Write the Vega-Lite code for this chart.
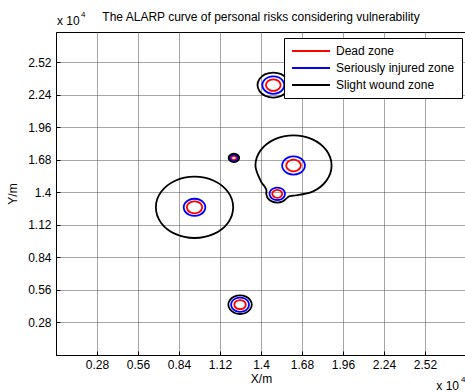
{
"$schema": "https://vega.github.io/schema/vega-lite/v6.json",
"width": 410, "height": 323,
"autosize": {"type": "none"},
"padding": {"left": 56, "top": 32, "right": 0, "bottom": 37},
"background": "white",
"title": {"text": "The ALARP curve of personal risks considering vulnerability", "font": "Liberation Sans", "fontSize": 12, "fontWeight": "normal", "color": "black", "offset": 7, "dy": 20},
"config": {
  "view": {"stroke": "black", "strokeWidth": 1},
  "axis": {"labelFont": "Liberation Sans", "labelFontSize": 12, "labelColor": "black", "titleFont": "Liberation Sans", "titleFontSize": 12, "titleFontWeight": "normal", "titleColor": "black", "grid": true, "gridColor": "#4d4d4d", "gridDash": [1, 1], "gridWidth": 1, "domainColor": "black", "domainWidth": 1, "ticks": true, "tickSize": -4, "tickColor": "black", "tickWidth": 1}
},
"datasets": {
"contours": [
{"zone":"Dead zone","id":"r1","i":0,"x":1.534,"y":2.323},{"zone":"Dead zone","id":"r1","i":1,"x":1.527,"y":2.348},{"zone":"Dead zone","id":"r1","i":2,"x":1.509,"y":2.366},{"zone":"Dead zone","id":"r1","i":3,"x":1.484,"y":2.373},{"zone":"Dead zone","id":"r1","i":4,"x":1.459,"y":2.366},{"zone":"Dead zone","id":"r1","i":5,"x":1.441,"y":2.348},{"zone":"Dead zone","id":"r1","i":6,"x":1.434,"y":2.323},{"zone":"Dead zone","id":"r1","i":7,"x":1.441,"y":2.298},{"zone":"Dead zone","id":"r1","i":8,"x":1.459,"y":2.280},{"zone":"Dead zone","id":"r1","i":9,"x":1.484,"y":2.273},{"zone":"Dead zone","id":"r1","i":10,"x":1.509,"y":2.280},{"zone":"Dead zone","id":"r1","i":11,"x":1.527,"y":2.298},
{"zone":"Seriously injured zone","id":"b1","i":0,"x":1.559,"y":2.323},{"zone":"Seriously injured zone","id":"b1","i":1,"x":1.549,"y":2.361},{"zone":"Seriously injured zone","id":"b1","i":2,"x":1.522,"y":2.388},{"zone":"Seriously injured zone","id":"b1","i":3,"x":1.484,"y":2.398},{"zone":"Seriously injured zone","id":"b1","i":4,"x":1.447,"y":2.388},{"zone":"Seriously injured zone","id":"b1","i":5,"x":1.419,"y":2.361},{"zone":"Seriously injured zone","id":"b1","i":6,"x":1.409,"y":2.323},{"zone":"Seriously injured zone","id":"b1","i":7,"x":1.419,"y":2.286},{"zone":"Seriously injured zone","id":"b1","i":8,"x":1.447,"y":2.258},{"zone":"Seriously injured zone","id":"b1","i":9,"x":1.484,"y":2.248},{"zone":"Seriously injured zone","id":"b1","i":10,"x":1.522,"y":2.258},{"zone":"Seriously injured zone","id":"b1","i":11,"x":1.549,"y":2.286},
{"zone":"Slight wound zone","id":"k1","i":0,"x":1.592,"y":2.323},{"zone":"Slight wound zone","id":"k1","i":1,"x":1.578,"y":2.377},{"zone":"Slight wound zone","id":"k1","i":2,"x":1.538,"y":2.417},{"zone":"Slight wound zone","id":"k1","i":3,"x":1.484,"y":2.431},{"zone":"Slight wound zone","id":"k1","i":4,"x":1.430,"y":2.417},{"zone":"Slight wound zone","id":"k1","i":5,"x":1.391,"y":2.377},{"zone":"Slight wound zone","id":"k1","i":6,"x":1.376,"y":2.323},{"zone":"Slight wound zone","id":"k1","i":7,"x":1.391,"y":2.269},{"zone":"Slight wound zone","id":"k1","i":8,"x":1.430,"y":2.230},{"zone":"Slight wound zone","id":"k1","i":9,"x":1.484,"y":2.215},{"zone":"Slight wound zone","id":"k1","i":10,"x":1.538,"y":2.230},{"zone":"Slight wound zone","id":"k1","i":11,"x":1.578,"y":2.269},
{"zone":"Dead zone","id":"r2","i":0,"x":1.233,"y":1.696},{"zone":"Dead zone","id":"r2","i":1,"x":1.231,"y":1.705},{"zone":"Dead zone","id":"r2","i":2,"x":1.224,"y":1.712},{"zone":"Dead zone","id":"r2","i":3,"x":1.215,"y":1.714},{"zone":"Dead zone","id":"r2","i":4,"x":1.206,"y":1.712},{"zone":"Dead zone","id":"r2","i":5,"x":1.199,"y":1.705},{"zone":"Dead zone","id":"r2","i":6,"x":1.197,"y":1.696},{"zone":"Dead zone","id":"r2","i":7,"x":1.199,"y":1.687},{"zone":"Dead zone","id":"r2","i":8,"x":1.206,"y":1.680},{"zone":"Dead zone","id":"r2","i":9,"x":1.215,"y":1.678},{"zone":"Dead zone","id":"r2","i":10,"x":1.224,"y":1.680},{"zone":"Dead zone","id":"r2","i":11,"x":1.231,"y":1.687},
{"zone":"Seriously injured zone","id":"b2","i":0,"x":1.243,"y":1.696},{"zone":"Seriously injured zone","id":"b2","i":1,"x":1.239,"y":1.710},{"zone":"Seriously injured zone","id":"b2","i":2,"x":1.229,"y":1.720},{"zone":"Seriously injured zone","id":"b2","i":3,"x":1.215,"y":1.724},{"zone":"Seriously injured zone","id":"b2","i":4,"x":1.201,"y":1.720},{"zone":"Seriously injured zone","id":"b2","i":5,"x":1.191,"y":1.710},{"zone":"Seriously injured zone","id":"b2","i":6,"x":1.187,"y":1.696},{"zone":"Seriously injured zone","id":"b2","i":7,"x":1.191,"y":1.682},{"zone":"Seriously injured zone","id":"b2","i":8,"x":1.201,"y":1.672},{"zone":"Seriously injured zone","id":"b2","i":9,"x":1.215,"y":1.668},{"zone":"Seriously injured zone","id":"b2","i":10,"x":1.229,"y":1.672},{"zone":"Seriously injured zone","id":"b2","i":11,"x":1.239,"y":1.682},
{"zone":"Slight wound zone","id":"k2","i":0,"x":1.251,"y":1.696},{"zone":"Slight wound zone","id":"k2","i":1,"x":1.246,"y":1.714},{"zone":"Slight wound zone","id":"k2","i":2,"x":1.233,"y":1.727},{"zone":"Slight wound zone","id":"k2","i":3,"x":1.215,"y":1.732},{"zone":"Slight wound zone","id":"k2","i":4,"x":1.197,"y":1.727},{"zone":"Slight wound zone","id":"k2","i":5,"x":1.184,"y":1.714},{"zone":"Slight wound zone","id":"k2","i":6,"x":1.179,"y":1.696},{"zone":"Slight wound zone","id":"k2","i":7,"x":1.184,"y":1.678},{"zone":"Slight wound zone","id":"k2","i":8,"x":1.197,"y":1.665},{"zone":"Slight wound zone","id":"k2","i":9,"x":1.215,"y":1.660},{"zone":"Slight wound zone","id":"k2","i":10,"x":1.233,"y":1.665},{"zone":"Slight wound zone","id":"k2","i":11,"x":1.246,"y":1.678},
{"zone":"Dead zone","id":"r3","i":0,"x":1.672,"y":1.631},{"zone":"Dead zone","id":"r3","i":1,"x":1.665,"y":1.656},{"zone":"Dead zone","id":"r3","i":2,"x":1.647,"y":1.674},{"zone":"Dead zone","id":"r3","i":3,"x":1.622,"y":1.681},{"zone":"Dead zone","id":"r3","i":4,"x":1.597,"y":1.674},{"zone":"Dead zone","id":"r3","i":5,"x":1.579,"y":1.656},{"zone":"Dead zone","id":"r3","i":6,"x":1.572,"y":1.631},{"zone":"Dead zone","id":"r3","i":7,"x":1.579,"y":1.606},{"zone":"Dead zone","id":"r3","i":8,"x":1.597,"y":1.588},{"zone":"Dead zone","id":"r3","i":9,"x":1.622,"y":1.581},{"zone":"Dead zone","id":"r3","i":10,"x":1.647,"y":1.588},{"zone":"Dead zone","id":"r3","i":11,"x":1.665,"y":1.606},
{"zone":"Seriously injured zone","id":"b3","i":0,"x":1.700,"y":1.631},{"zone":"Seriously injured zone","id":"b3","i":1,"x":1.690,"y":1.670},{"zone":"Seriously injured zone","id":"b3","i":2,"x":1.661,"y":1.699},{"zone":"Seriously injured zone","id":"b3","i":3,"x":1.622,"y":1.709},{"zone":"Seriously injured zone","id":"b3","i":4,"x":1.583,"y":1.699},{"zone":"Seriously injured zone","id":"b3","i":5,"x":1.555,"y":1.670},{"zone":"Seriously injured zone","id":"b3","i":6,"x":1.544,"y":1.631},{"zone":"Seriously injured zone","id":"b3","i":7,"x":1.555,"y":1.592},{"zone":"Seriously injured zone","id":"b3","i":8,"x":1.583,"y":1.563},{"zone":"Seriously injured zone","id":"b3","i":9,"x":1.622,"y":1.553},{"zone":"Seriously injured zone","id":"b3","i":10,"x":1.661,"y":1.563},{"zone":"Seriously injured zone","id":"b3","i":11,"x":1.690,"y":1.592},
{"zone":"Dead zone","id":"r4","i":0,"x":1.545,"y":1.387},{"zone":"Dead zone","id":"r4","i":1,"x":1.540,"y":1.404},{"zone":"Dead zone","id":"r4","i":2,"x":1.528,"y":1.416},{"zone":"Dead zone","id":"r4","i":3,"x":1.511,"y":1.421},{"zone":"Dead zone","id":"r4","i":4,"x":1.494,"y":1.416},{"zone":"Dead zone","id":"r4","i":5,"x":1.482,"y":1.404},{"zone":"Dead zone","id":"r4","i":6,"x":1.477,"y":1.387},{"zone":"Dead zone","id":"r4","i":7,"x":1.482,"y":1.370},{"zone":"Dead zone","id":"r4","i":8,"x":1.494,"y":1.358},{"zone":"Dead zone","id":"r4","i":9,"x":1.511,"y":1.353},{"zone":"Dead zone","id":"r4","i":10,"x":1.528,"y":1.358},{"zone":"Dead zone","id":"r4","i":11,"x":1.540,"y":1.370},
{"zone":"Seriously injured zone","id":"b4","i":0,"x":1.564,"y":1.387},{"zone":"Seriously injured zone","id":"b4","i":1,"x":1.557,"y":1.414},{"zone":"Seriously injured zone","id":"b4","i":2,"x":1.538,"y":1.433},{"zone":"Seriously injured zone","id":"b4","i":3,"x":1.511,"y":1.440},{"zone":"Seriously injured zone","id":"b4","i":4,"x":1.485,"y":1.433},{"zone":"Seriously injured zone","id":"b4","i":5,"x":1.465,"y":1.414},{"zone":"Seriously injured zone","id":"b4","i":6,"x":1.458,"y":1.387},{"zone":"Seriously injured zone","id":"b4","i":7,"x":1.465,"y":1.361},{"zone":"Seriously injured zone","id":"b4","i":8,"x":1.485,"y":1.341},{"zone":"Seriously injured zone","id":"b4","i":9,"x":1.511,"y":1.334},{"zone":"Seriously injured zone","id":"b4","i":10,"x":1.538,"y":1.341},{"zone":"Seriously injured zone","id":"b4","i":11,"x":1.557,"y":1.361},
{"zone":"Slight wound zone","id":"k3","i":0,"x":1.622,"y":1.371},{"zone":"Slight wound zone","id":"k3","i":1,"x":1.752,"y":1.406},{"zone":"Slight wound zone","id":"k3","i":2,"x":1.847,"y":1.501},{"zone":"Slight wound zone","id":"k3","i":3,"x":1.882,"y":1.631},{"zone":"Slight wound zone","id":"k3","i":4,"x":1.847,"y":1.761},{"zone":"Slight wound zone","id":"k3","i":5,"x":1.752,"y":1.856},{"zone":"Slight wound zone","id":"k3","i":6,"x":1.622,"y":1.891},{"zone":"Slight wound zone","id":"k3","i":7,"x":1.492,"y":1.856},{"zone":"Slight wound zone","id":"k3","i":8,"x":1.397,"y":1.761},{"zone":"Slight wound zone","id":"k3","i":9,"x":1.362,"y":1.631},{"zone":"Slight wound zone","id":"k3","i":10,"x":1.397,"y":1.501},{"zone":"Slight wound zone","id":"k3","i":11,"x":1.422,"y":1.455},{"zone":"Slight wound zone","id":"k3","i":12,"x":1.437,"y":1.420},{"zone":"Slight wound zone","id":"k3","i":13,"x":1.436,"y":1.387},{"zone":"Slight wound zone","id":"k3","i":14,"x":1.446,"y":1.350},{"zone":"Slight wound zone","id":"k3","i":15,"x":1.474,"y":1.322},{"zone":"Slight wound zone","id":"k3","i":16,"x":1.511,"y":1.312},{"zone":"Slight wound zone","id":"k3","i":17,"x":1.549,"y":1.322},{"zone":"Slight wound zone","id":"k3","i":18,"x":1.576,"y":1.350},{"zone":"Slight wound zone","id":"k3","i":19,"x":1.592,"y":1.366},
{"zone":"Dead zone","id":"r5","i":0,"x":0.998,"y":1.271},{"zone":"Dead zone","id":"r5","i":1,"x":0.991,"y":1.297},{"zone":"Dead zone","id":"r5","i":2,"x":0.972,"y":1.316},{"zone":"Dead zone","id":"r5","i":3,"x":0.946,"y":1.323},{"zone":"Dead zone","id":"r5","i":4,"x":0.920,"y":1.316},{"zone":"Dead zone","id":"r5","i":5,"x":0.901,"y":1.297},{"zone":"Dead zone","id":"r5","i":6,"x":0.894,"y":1.271},{"zone":"Dead zone","id":"r5","i":7,"x":0.901,"y":1.245},{"zone":"Dead zone","id":"r5","i":8,"x":0.920,"y":1.226},{"zone":"Dead zone","id":"r5","i":9,"x":0.946,"y":1.219},{"zone":"Dead zone","id":"r5","i":10,"x":0.972,"y":1.226},{"zone":"Dead zone","id":"r5","i":11,"x":0.991,"y":1.245},
{"zone":"Seriously injured zone","id":"b5","i":0,"x":1.020,"y":1.271},{"zone":"Seriously injured zone","id":"b5","i":1,"x":1.010,"y":1.308},{"zone":"Seriously injured zone","id":"b5","i":2,"x":0.983,"y":1.335},{"zone":"Seriously injured zone","id":"b5","i":3,"x":0.946,"y":1.345},{"zone":"Seriously injured zone","id":"b5","i":4,"x":0.909,"y":1.335},{"zone":"Seriously injured zone","id":"b5","i":5,"x":0.882,"y":1.308},{"zone":"Seriously injured zone","id":"b5","i":6,"x":0.872,"y":1.271},{"zone":"Seriously injured zone","id":"b5","i":7,"x":0.882,"y":1.234},{"zone":"Seriously injured zone","id":"b5","i":8,"x":0.909,"y":1.207},{"zone":"Seriously injured zone","id":"b5","i":9,"x":0.946,"y":1.197},{"zone":"Seriously injured zone","id":"b5","i":10,"x":0.983,"y":1.207},{"zone":"Seriously injured zone","id":"b5","i":11,"x":1.010,"y":1.234},
{"zone":"Slight wound zone","id":"k5","i":0,"x":1.210,"y":1.271},{"zone":"Slight wound zone","id":"k5","i":1,"x":1.175,"y":1.403},{"zone":"Slight wound zone","id":"k5","i":2,"x":1.078,"y":1.500},{"zone":"Slight wound zone","id":"k5","i":3,"x":0.946,"y":1.535},{"zone":"Slight wound zone","id":"k5","i":4,"x":0.814,"y":1.500},{"zone":"Slight wound zone","id":"k5","i":5,"x":0.717,"y":1.403},{"zone":"Slight wound zone","id":"k5","i":6,"x":0.682,"y":1.271},{"zone":"Slight wound zone","id":"k5","i":7,"x":0.717,"y":1.139},{"zone":"Slight wound zone","id":"k5","i":8,"x":0.814,"y":1.042},{"zone":"Slight wound zone","id":"k5","i":9,"x":0.946,"y":1.007},{"zone":"Slight wound zone","id":"k5","i":10,"x":1.078,"y":1.042},{"zone":"Slight wound zone","id":"k5","i":11,"x":1.175,"y":1.139},
{"zone":"Dead zone","id":"r6","i":0,"x":1.296,"y":0.433},{"zone":"Dead zone","id":"r6","i":1,"x":1.291,"y":0.453},{"zone":"Dead zone","id":"r6","i":2,"x":1.277,"y":0.467},{"zone":"Dead zone","id":"r6","i":3,"x":1.257,"y":0.472},{"zone":"Dead zone","id":"r6","i":4,"x":1.238,"y":0.467},{"zone":"Dead zone","id":"r6","i":5,"x":1.223,"y":0.453},{"zone":"Dead zone","id":"r6","i":6,"x":1.218,"y":0.433},{"zone":"Dead zone","id":"r6","i":7,"x":1.223,"y":0.414},{"zone":"Dead zone","id":"r6","i":8,"x":1.238,"y":0.399},{"zone":"Dead zone","id":"r6","i":9,"x":1.257,"y":0.394},{"zone":"Dead zone","id":"r6","i":10,"x":1.277,"y":0.399},{"zone":"Dead zone","id":"r6","i":11,"x":1.291,"y":0.414},
{"zone":"Seriously injured zone","id":"b6","i":0,"x":1.318,"y":0.433},{"zone":"Seriously injured zone","id":"b6","i":1,"x":1.310,"y":0.464},{"zone":"Seriously injured zone","id":"b6","i":2,"x":1.288,"y":0.486},{"zone":"Seriously injured zone","id":"b6","i":3,"x":1.257,"y":0.494},{"zone":"Seriously injured zone","id":"b6","i":4,"x":1.227,"y":0.486},{"zone":"Seriously injured zone","id":"b6","i":5,"x":1.204,"y":0.464},{"zone":"Seriously injured zone","id":"b6","i":6,"x":1.196,"y":0.433},{"zone":"Seriously injured zone","id":"b6","i":7,"x":1.204,"y":0.403},{"zone":"Seriously injured zone","id":"b6","i":8,"x":1.227,"y":0.380},{"zone":"Seriously injured zone","id":"b6","i":9,"x":1.257,"y":0.372},{"zone":"Seriously injured zone","id":"b6","i":10,"x":1.288,"y":0.380},{"zone":"Seriously injured zone","id":"b6","i":11,"x":1.310,"y":0.403},
{"zone":"Slight wound zone","id":"k6","i":0,"x":1.337,"y":0.433},{"zone":"Slight wound zone","id":"k6","i":1,"x":1.326,"y":0.473},{"zone":"Slight wound zone","id":"k6","i":2,"x":1.297,"y":0.502},{"zone":"Slight wound zone","id":"k6","i":3,"x":1.257,"y":0.513},{"zone":"Slight wound zone","id":"k6","i":4,"x":1.217,"y":0.502},{"zone":"Slight wound zone","id":"k6","i":5,"x":1.188,"y":0.473},{"zone":"Slight wound zone","id":"k6","i":6,"x":1.177,"y":0.433},{"zone":"Slight wound zone","id":"k6","i":7,"x":1.188,"y":0.393},{"zone":"Slight wound zone","id":"k6","i":8,"x":1.217,"y":0.364},{"zone":"Slight wound zone","id":"k6","i":9,"x":1.257,"y":0.353},{"zone":"Slight wound zone","id":"k6","i":10,"x":1.297,"y":0.364},{"zone":"Slight wound zone","id":"k6","i":11,"x":1.326,"y":0.393}
],
"notes": [
{"x": 0, "y": 2.78, "base": "x 10", "sup": "4", "pos": "top"},
{"x": 2.8, "y": 0, "base": "x 10", "sup": "4", "pos": "bottom"}
]
},
"layer": [
{
  "data": {"name": "contours"},
  "mark": {"type": "line", "interpolate": "cardinal-closed", "strokeWidth": 1.8},
  "encoding": {
    "x": {"field": "x", "type": "quantitative", "scale": {"domain": [0, 2.8], "nice": false, "zero": false}, "axis": {"title": "X/m", "values": [0.28, 0.56, 0.84, 1.12, 1.4, 1.68, 1.96, 2.24, 2.52], "format": ".3~g", "labelPadding": 8, "titlePadding": 3}},
    "y": {"field": "y", "type": "quantitative", "scale": {"domain": [0, 2.78], "nice": false, "zero": false}, "axis": {"title": "Y/m", "values": [0.28, 0.56, 0.84, 1.12, 1.4, 1.68, 1.96, 2.24, 2.52], "format": ".3~g", "labelPadding": 9, "titlePadding": 8}},
    "color": {"field": "zone", "type": "nominal", "scale": {"domain": ["Dead zone", "Seriously injured zone", "Slight wound zone"], "range": ["#ff0000", "#0000ff", "#000000"]},
      "legend": {"title": null, "orient": "none", "legendX": 228, "legendY": 6, "direction": "vertical", "symbolType": "M-1,0H6.6", "symbolSize": 100, "symbolStrokeWidth": 1.8, "labelFont": "Liberation Sans", "labelFontSize": 12, "labelColor": "black", "labelOffset": 33, "strokeColor": "black", "fillColor": "white", "padding": 7, "rowPadding": 5}},
    "detail": {"field": "id"},
    "order": {"field": "i", "type": "quantitative"}
  }
},
{
  "data": {"name": "notes"},
  "transform": [{"filter": "datum.pos === 'top'"}],
  "layer": [
    {"mark": {"type": "text", "align": "left", "baseline": "middle", "font": "Liberation Sans", "fontSize": 12, "color": "black", "dx": 1, "dy": -11}, "encoding": {"x": {"field": "x", "type": "quantitative"}, "y": {"field": "y", "type": "quantitative"}, "text": {"field": "base"}}},
    {"mark": {"type": "text", "align": "left", "baseline": "middle", "font": "Liberation Sans", "fontSize": 8, "color": "black", "dx": 25, "dy": -17}, "encoding": {"x": {"field": "x", "type": "quantitative"}, "y": {"field": "y", "type": "quantitative"}, "text": {"field": "sup"}}}
  ]
},
{
  "data": {"name": "notes"},
  "transform": [{"filter": "datum.pos === 'bottom'"}],
  "layer": [
    {"mark": {"type": "text", "align": "right", "baseline": "middle", "font": "Liberation Sans", "fontSize": 12, "color": "black", "dx": -7, "dy": 31}, "encoding": {"x": {"field": "x", "type": "quantitative"}, "y": {"field": "y", "type": "quantitative"}, "text": {"field": "base"}}},
    {"mark": {"type": "text", "align": "left", "baseline": "middle", "font": "Liberation Sans", "fontSize": 8, "color": "black", "dx": -5, "dy": 25}, "encoding": {"x": {"field": "x", "type": "quantitative"}, "y": {"field": "y", "type": "quantitative"}, "text": {"field": "sup"}}}
  ]
}
]
}
